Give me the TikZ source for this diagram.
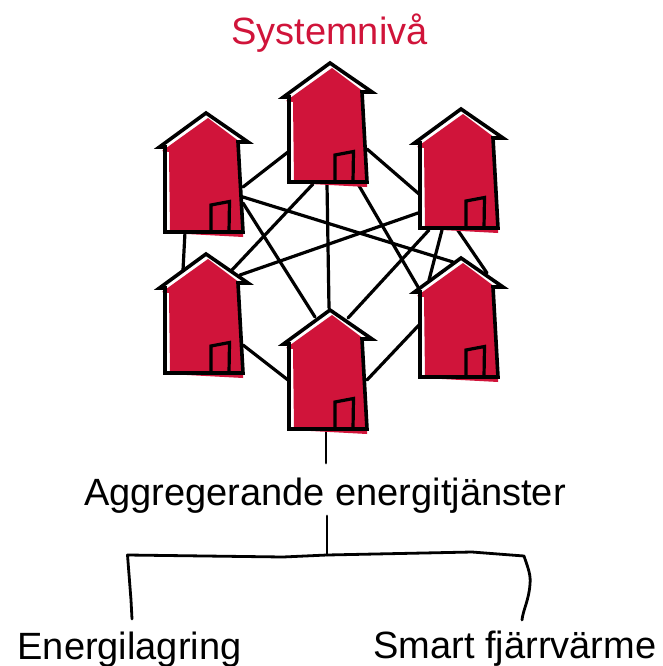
\documentclass[tikz,border=0pt]{standalone}
\usepackage{fontspec}
\setmainfont{Liberation Sans}
\definecolor{crim}{RGB}{208,20,58}
\tikzset{
  x=1pt,y=-1pt,
  hline/.style={line width=3.6pt,line join=miter,miter limit=5},
  link/.style={line width=3.2pt,line cap=round},
  thin link/.style={line width=2.8pt,line join=round,line cap=round},
  lab/.style={anchor=base,inner sep=0pt,font=\fontsize{38}{42}\selectfont},
  anchorbox/.style={minimum width=80pt,minimum height=120pt,inner sep=0pt},
  pics/house/.style={code={
    \fill[white] (206,113)--(159.5,147)--(165,147)--(165,232)--(243,232)--(238,142)--(248,142)--cycle;
    \fill[crim] (208,118)--(162,151)--(169,152)--(170,232)--(187,234)--(243,237)--(243,232)--(238,143)--(240,142)--cycle;
    \draw[hline] (206,113)--(159.5,147)--(165,147)--(165,232)--(243,232)--(238,142)--(248,142)--cycle;
    \draw[hline,line width=3.2pt] (211,232)--(211,205)--(229.5,201.5)--(229,232);
  }}
}
\newcommand{\lnk}[6]{\draw[link] ([shift={(#2,#3)}]#1.center) -- ([shift={(#5,#6)}]#4.center);}
\begin{document}
\begin{tikzpicture}
\useasboundingbox (0,0) rectangle (662,666);
% named anchors of the six houses (reference point at 204,172 for the first)
\node[anchorbox] (h1) at (204,172) {};
\node[anchorbox] (h2) at (328,122) {};
\node[anchorbox] (h3) at (459,168) {};
\node[anchorbox] (h4) at (204,313) {};
\node[anchorbox] (h5) at (328,369) {};
\node[anchorbox] (h6) at (459,317) {};
\node[lab,text=crim] (title) at (329.5,44.5) {Systemnivå};
\node[lab] (agg) at (325,505) {Aggregerande energitjänster};
\node[lab] (lagr) at (129.5,659) {Energilagring};
\node[lab] (fjv) at (515,658) {Smart fjärrvärme};
\coordinate (junction) at (327,555);
% connectors
\lnk{h1}{39}{15}{h2}{-40}{30}
\lnk{h1}{-19}{60}{h4}{-21}{-43}
\lnk{h1}{39}{25}{h6}{-6}{-55}
\lnk{h1}{39}{31}{h5}{-13}{-52}
\lnk{h2}{-15}{62}{h4}{28}{-43}
\lnk{h2}{-1}{62}{h5}{1}{-61}
\lnk{h2}{30}{62}{h6}{-41}{-30}
\lnk{h2}{39}{27}{h3}{-40}{26}
\lnk{h3}{-41}{45}{h4}{36}{-38}
\lnk{h3}{-30}{62}{h5}{20}{-51}
\lnk{h3}{-17}{62}{h6}{-30}{-37}
\lnk{h3}{-2}{61}{h6}{28}{-44}
\lnk{h4}{39}{32}{h5}{-40}{11}
\lnk{h5}{39}{11}{h6}{-40}{8}
\draw[thin link] ([shift={(-2,61)}]h5.center) -- ([shift={(1,-42)}]agg.base);
% houses
\pic at (0,0) {house};
\pic at (124,-50) {house};
\pic at (255,-4) {house};
\pic at (0,141) {house};
\pic at (124,197) {house};
\pic at (255,145) {house};
% bracket
\draw[thin link] ([shift={(2,11)}]agg.base) -- (junction);
\draw[thin link] ([shift={(2.5,-40)}]lagr.base) -- (131,600) -- (127.5,555) -- (283,557) -- (junction) -- (472,552) -- (524,556)
  .. controls (528,568) and (531,575) .. (530,584)
  .. controls (529,600) and (523,610) .. ([shift={(7,-38)}]fjv.base);
\end{tikzpicture}
\end{document}
